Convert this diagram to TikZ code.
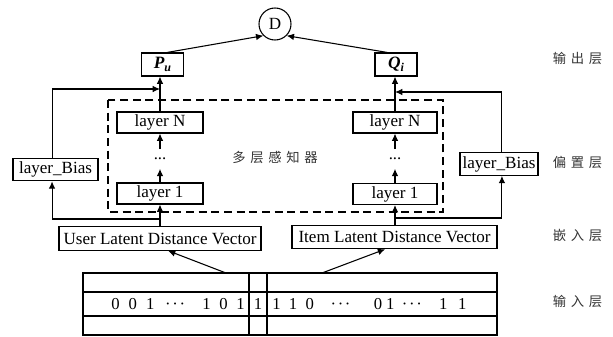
\documentclass[tikz,border=0pt]{standalone}
\usepackage{fontspec}
\setmainfont{Liberation Serif}
\newfontfamily\cjk{Noto Sans CJK SC}
\usetikzlibrary{arrows.meta}

\tikzset{
  box/.style={draw, line width=0.8pt, inner sep=1pt, font=\fontsize{12.8}{14}\selectfont},
  layerbox/.style={box, minimum width=64.5pt, minimum height=15.75pt},
  biasbox/.style={box, minimum height=17pt},
  vecbox/.style={box, minimum height=17.5pt},
  outbox/.style={box, minimum width=32pt, minimum height=17.25pt},
  dotsnode/.style={font=\fontsize{12.5}{14}\selectfont, inner sep=0pt, minimum height=14pt},
  zh/.style={font=\cjk\fontsize{10}{12}\selectfont, text=black!80},
  bits/.style={font=\fontsize{12.5}{14}\selectfont, inner sep=0pt},
}
\newcommand{\zhsp}{\hspace{3.5pt}}
\newcommand{\cdts}{\makebox[15pt]{·\hfill·\hfill·}}

\begin{document}
\begin{tikzpicture}[x=0.75pt,y=-0.75pt,>={Latex[length=5.5pt,width=5pt]},line width=0.8pt]
  \useasboundingbox (0,0) rectangle (613,336);

  % Output layer
  \node[draw, circle, minimum size=24pt, inner sep=0pt, font=\fontsize{12.8}{14}\selectfont] (D) at (275,24) {D};
  \node[outbox] (Pu) at (162.5,64.5) {\fontsize{13}{14}\selectfont\bfseries\itshape P\raisebox{-0.35ex}{\fontsize{9}{10}\selectfont u}};
  \node[outbox, minimum width=31.5pt] (Qi) at (396,64.5) {\fontsize{13}{14}\selectfont\bfseries\itshape Q\raisebox{-0.35ex}{\fontsize{9}{10}\selectfont i}};

  % MLP towers
  \node[layerbox] (LNl) at (160,122.5) {layer N};
  \node[dotsnode] (dotsl) at (160,159) {...};
  \node[layerbox] (L1l) at (160,193.5) {layer 1};
  \node[layerbox, minimum width=63pt] (LNr) at (395,122.5) {layer N};
  \node[dotsnode] (dotsr) at (395,159) {...};
  \node[layerbox, minimum width=63pt] (L1r) at (395,194) {layer 1};
  \draw[dash pattern=on 6pt off 3.5pt] (108,100) rectangle (443,212);
  \node[zh] (mlp) at (275,157) {多\zhsp 层\zhsp 感\zhsp 知\zhsp 器};

  % Bias boxes
  \node[biasbox, minimum width=63.75pt] (BiasL) at (55.5,169.5) {layer\_Bias};
  \node[biasbox, minimum width=58.5pt] (BiasR) at (499,164) {layer\_Bias};

  % Embedding vectors
  \node[vecbox, minimum width=151.5pt] (User) at (160,238.5) {User Latent Distance Vector};
  \node[vecbox, minimum width=153.75pt] (Item) at (394.5,237) {Item Latent Distance Vector};

  % Input table
  \node[draw, minimum width=310.5pt, minimum height=46.5pt, inner sep=0pt] (inp) at (290,304) {};
  \draw (83,292) -- (497,292);
  \draw (83,316) -- (497,316);
  \draw (249,273) -- (249,335);
  \draw (267,273) -- (267,335);
  \node[bits, anchor=west] (bitsl) at (110.8,304)
    {0\hspace{6.8pt}0\hspace{6.8pt}1\hspace{8pt}\cdts\hspace{13pt}1\hspace{6.5pt}0\hspace{6.5pt}1};
  \node[bits] (bitsm) at (258,304) {1};
  \node[bits, anchor=west] (bitsr) at (271.8,304)
    {1\hspace{6.2pt}1\hspace{6.2pt}0\hspace{12.5pt}\cdts\hspace{17.5pt}0\hspace{3pt}1\hspace{5.5pt}\cdts\hspace{13pt}1\hspace{8pt}1};

  % Layer labels
  \node[zh] (lout) at (577.5,58) {输\zhsp 出\zhsp 层};
  \node[zh] (lbias) at (577.5,162) {偏\zhsp 置\zhsp 层};
  \node[zh] (lemb) at (577.5,235) {嵌\zhsp 入\zhsp 层};
  \node[zh] (lin) at (577.5,301) {输\zhsp 入\zhsp 层};

  % Edges
  \coordinate (inl) at (226,273);
  \coordinate (inr) at (322,273);
  \draw[->] (inl) -- ([xshift=6pt]User.south);
  \draw[->] (inr) -- ([xshift=-7pt]Item.south);

  \coordinate (sl) at (160,219);
  \coordinate (sr) at (395,218);
  \draw[->] (User.north) -- (L1l.south);
  \draw[->] (L1r.south |- Item.north) -- (L1r.south);
  \draw[->] (sl) -| ([xshift=-2.6pt]BiasL.south);
  \draw[->] (sr) -| ([xshift=2.2pt]BiasR.south);

  \draw[->] (L1l) -- (dotsl);
  \draw[->] (dotsl) -- (LNl);
  \draw[->] (L1r) -- (dotsr);
  \draw[->] (dotsr) -- (LNr);

  \coordinate (tl) at (160,89);
  \coordinate (tr) at (395,92);
  \draw[->] (LNl.north) -- (LNl.north |- Pu.south);
  \draw[->] (LNr.north) -- (LNr.north |- Qi.south);
  \draw[->] ([xshift=-2.6pt]BiasL.north) |- (tl);
  \draw[->] ([xshift=2.2pt]BiasR.north) |- (tr);

  \draw[->] ([xshift=3.4pt]Pu.north) -- (D.225);
  \draw[->] ([xshift=-6.5pt]Qi.north) -- (D.-45);
\end{tikzpicture}
\end{document}
